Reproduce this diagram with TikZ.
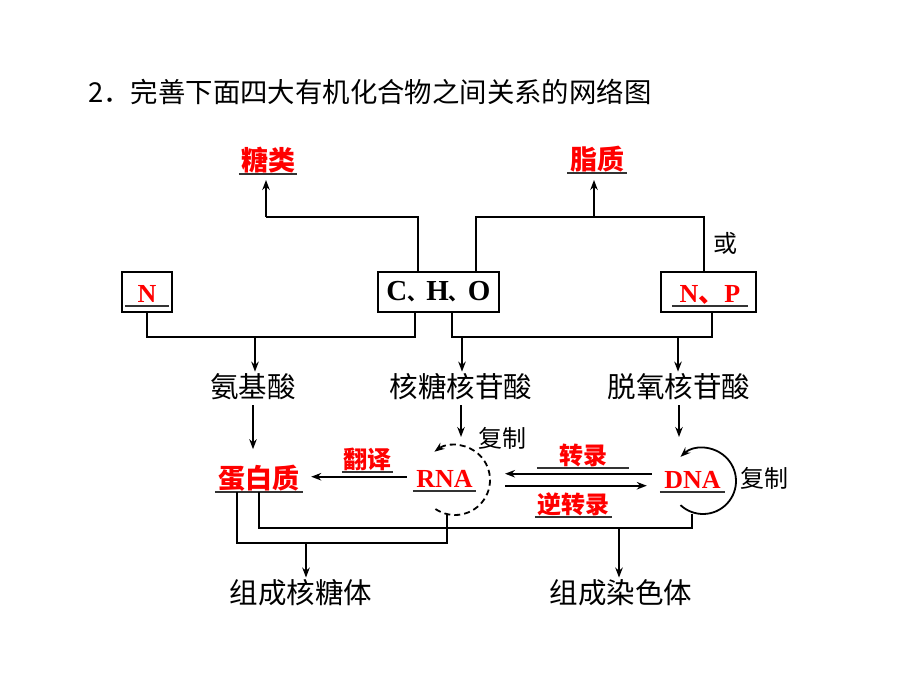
\documentclass[tikz,border=0pt]{standalone}
\usepackage{fontspec}
\setmainfont{Liberation Serif}
\newfontfamily\cjk{Noto Sans CJK SC}
\usetikzlibrary{arrows.meta,calc}
\newcommand*\lw{1.8pt}
\newcommand*\bigsize  {\fontsize{28.5}{28.5}\selectfont}
\newcommand*\redsize  {\fontsize{27}{27}\selectfont}
\newcommand*\midsize  {\fontsize{24}{24}\selectfont}
\newcommand*\dun{{\cjk\fontsize{19}{19}\selectfont 、}}
\tikzset{
    link/.style    = {draw, line width=\lw},
    tip/.style     = {-{Stealth[length=10pt,width=7.5pt]}},
    arrow/.style   = {link, tip},
    elembox/.style = {draw, line width=\lw, inner sep=0pt,
                      minimum height=40pt},
    word/.style    = {font=\cjk\bigsize, inner sep=2pt},
    note/.style    = {font=\cjk\midsize, inner sep=0pt},
    cyc/.style     = {circle, inner sep=0pt, outer sep=0pt},
    blank/.style   = {text=red, anchor=south, inner xsep=0pt, inner ysep=3.5pt,
                      text depth=0pt,
                      append after command={(\tikzlastnode.south west)
                        edge[draw=black!80, line width=1.4pt] (\tikzlastnode.south east)}},
    bigblank/.style  = {blank, font=\cjk\bfseries\redsize},
    midblank/.style  = {blank, font=\cjk\bfseries\midsize},
    latinblank/.style= {blank, font=\bfseries\fontsize{26}{26}\selectfont},
}

\begin{document}
\begin{tikzpicture}[x=1pt,y=-1pt]
    \useasboundingbox (0,0) rectangle (920,690);

    % title
    \node[anchor=west, inner sep=0pt, font=\cjk\fontsize{27.4}{27.4}\selectfont]
        (title) at (88,92) {2．完善下面四大有机化合物之间关系的网络图};

    % top answers
    \node[bigblank, minimum width=58pt] (sugar) at (268,174) {糖类};
    \node[bigblank, minimum width=59pt] (lipid) at (597,173) {脂质};

    % element boxes
    \node[elembox, minimum width=121pt, font=\bfseries\fontsize{29}{29}\selectfont]
        (CHO) at (438.5,292) {C\dun H\dun O};
    \node[elembox, minimum width=50pt]  (N)   at (147,292)   {};
    \node[elembox, minimum width=95pt]  (NP)  at (708.5,292) {};
    \node[latinblank, minimum width=44pt] (Nans)  at (147,306) {N};
    \node[latinblank, minimum width=76pt] (NPans) at (710,306) {N{\cjk 、}P};
    \node[note] (huo) at (725,243) {或};

    % monomers
    \node[word] (aa) at (253,387) {氨基酸};
    \node[word] (rn) at (461,387) {核糖核苷酸};
    \node[word] (dn) at (679,387) {脱氧核苷酸};

    % macromolecules
    \node[bigblank, minimum width=88pt]   (protein) at (259,492) {蛋白质};
    \node[latinblank, minimum width=63pt] (rna)     at (444.5,491) {RNA};
    \node[latinblank, minimum width=65pt] (dna)     at (692.5,492) {DNA};
    \node[cyc, minimum size=70pt] (rnaCyc) at (455,480) {};
    \node[cyc, minimum size=66pt] (dnaCyc) at (703,481) {};

    % process labels
    \node[midblank, minimum width=51pt] (trl)  at (367.5,472) {翻译};
    \node[midblank, minimum width=92pt] (tcr)  at (583,468)   {转录};
    \node[midblank, minimum width=77pt] (rtcr) at (573.5,517) {逆转录};
    \node[note] (repR) at (502,438) {复制};
    \node[note] (repD) at (764,478) {复制};

    % structures
    \node[word] (ribo)   at (301,593) {组成核糖体};
    \node[word] (chromo) at (621,593) {组成染色体};

    % bends of the connectors
    \coordinate (topA) at (266,217);
    \coordinate (topB) at (594,217);
    \coordinate (busA) at (255,337);
    \coordinate (busB) at (462,337);
    \coordinate (busC) at (678,337);
    \coordinate (busR) at (306,543);
    \coordinate (busD) at (619,528);

    % C,H,O up to sugar and lipid
    \draw[link] ([xshift=-20.5pt]CHO.north) |- (topA);
    \draw[arrow, shorten >=6pt] (topA) -- (topA |- sugar.south);
    \draw[link] ([xshift=37.5pt]CHO.north) |- (topB) -| ([xshift=-4.5pt]NP.north);
    \draw[arrow, shorten >=7pt] (topB) -- (topB |- lipid.south);

    % elements down to monomers
    \draw[link] (N.south) |- (busA) -| ([xshift=-23.5pt]CHO.south);
    \draw[arrow] (busA) -- (busA |- aa.north);
    \draw[link] ([xshift=13.5pt]CHO.south) |- (busB) -- (busC) -| ([xshift=3.5pt]NP.south);
    \draw[arrow] (busB) -- (busB |- rn.north);
    \draw[arrow] (busC) -- (busC |- dn.north);

    % monomers down to macromolecules
    \draw[arrow, shorten <=3pt, shorten >=12pt] (aa) -- (aa |- protein.north);
    \draw[arrow, shorten <=3pt, shorten >=8pt]  (rn) -- (rn |- rnaCyc.north);
    \draw[arrow, shorten <=3pt, shorten >=11pt] (dn) -- (dn |- dnaCyc.north);

    % replication loops
    \draw[link, dash pattern=on 6pt off 4pt, tip]
        (rnaCyc.-124) arc[start angle=-124, end angle=126, radius=35pt];
    \draw[link, tip]
        (dnaCyc.-133) arc[start angle=-133, end angle=133, radius=33pt];

    % translation, transcription, reverse transcription
    \draw[arrow] ($(rna.west)+(-6pt,2pt)$) -- ($(protein.east |- rna.west)+(8pt,2pt)$);
    \draw[arrow] ($(dna.west)+(-8pt,6pt)$) -- ($(rnaCyc.east |- dna.west)+(15pt,6pt)$);
    \draw[arrow] ($(rnaCyc.east |- dna.west)+(15pt,-6pt)$) -- ($(dna.west)+(-13pt,-6pt)$);

    % macromolecules down to structures
    \draw[link] ([xshift=-22pt]protein.south) |- (busR) -| ([xshift=-8pt]rnaCyc.south);
    \draw[arrow] (busR) -- (busR |- ribo.north);
    \draw[link] (protein.south) |- (busD) -| ([xshift=-11pt]dnaCyc.south);
    \draw[arrow] (busD) -- (busD |- chromo.north);
\end{tikzpicture}
\end{document}
